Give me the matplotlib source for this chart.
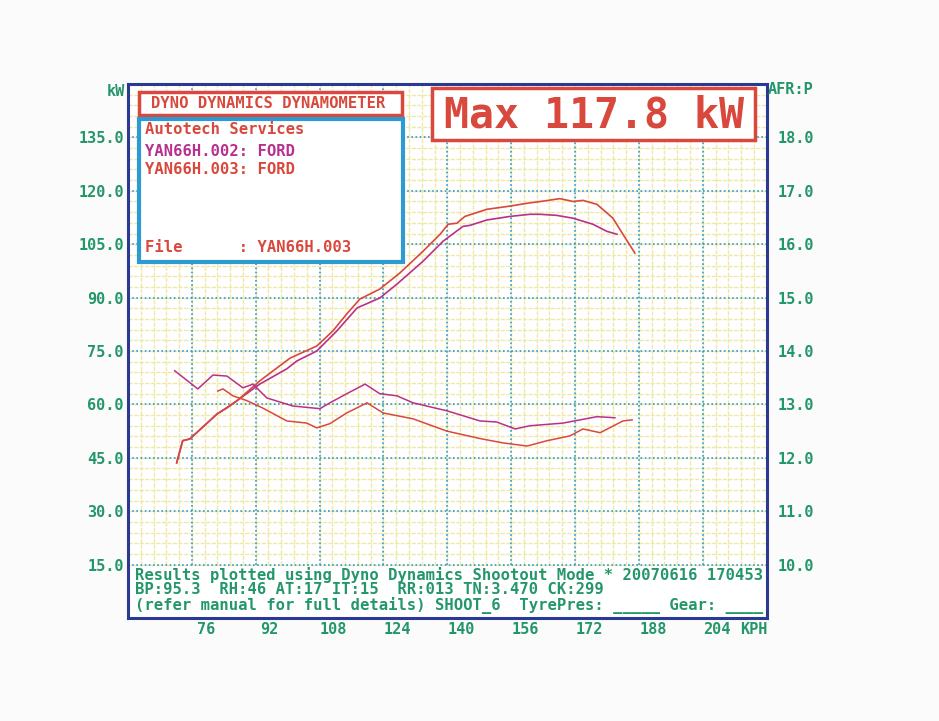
import numpy as np
import matplotlib
matplotlib.use('Agg')
import matplotlib.pyplot as plt
from matplotlib.patches import Rectangle

# values (KPH vs kW, and AFR on the right scale)
kph_pwr_002 = [68.7, 70.2, 72.0, 78.8, 81.3, 89.5, 96.3, 98.8, 103.8, 108.8, 113.9, 119.6, 123.9,
               130.4, 135.4, 140.4, 142.2, 146.4, 152.2, 157.2, 159.7, 163.9, 168.0, 173.0, 176.5, 179.0]
kw_002 = [43.6, 49.8, 50.3, 57.3, 59.0, 65.7, 70.0, 72.2, 75.0, 80.6, 87.1, 89.9, 93.8,
          100.2, 105.8, 110.0, 110.3, 111.8, 112.8, 113.4, 113.4, 113.1, 112.3, 110.6, 108.6, 107.8]

kph_pwr_003 = [68.7, 70.2, 72.0, 78.8, 83.8, 89.5, 97.1, 103.8, 107.8, 111.3, 114.6, 119.6, 124.6,
               130.4, 134.7, 136.7, 138.9, 140.9, 146.4, 152.2, 156.5, 160.5, 164.7, 168.0, 170.5,
               174.0, 178.0, 180.5, 183.5]
kw_003 = [43.6, 49.8, 50.3, 57.3, 61.0, 66.6, 73.0, 76.4, 80.6, 85.4, 89.6, 92.4, 96.9,
          103.0, 107.8, 110.6, 110.9, 112.8, 114.8, 115.7, 116.5, 117.1, 117.8, 117.0, 117.3,
          116.2, 112.3, 107.8, 102.5]

kph_afr_002 = [68.2, 74.0, 77.8, 81.3, 85.3, 87.8, 91.3, 97.8, 104.6, 107.1, 111.3, 115.9, 119.6, 123.9,
               127.9, 136.4, 144.7, 148.9, 153.5, 157.2, 165.5, 174.0, 178.5]
afr_002 = [13.63, 13.29, 13.55, 13.53, 13.31, 13.38, 13.12, 12.97, 12.92, 13.03, 13.20, 13.38, 13.20, 13.16,
           13.03, 12.88, 12.69, 12.67, 12.54, 12.60, 12.65, 12.77, 12.75]

kph_afr_003 = [79.0, 80.3, 82.8, 86.3, 90.3, 96.3, 101.3, 103.8, 107.1, 111.3, 116.4, 120.4, 127.9,
               136.4, 144.7, 150.4, 156.5, 161.5, 167.2, 170.5, 174.8, 180.5, 182.8]
afr_003 = [13.25, 13.29, 13.16, 13.07, 12.93, 12.69, 12.65, 12.56, 12.64, 12.84, 13.03, 12.84, 12.73,
           12.50, 12.36, 12.28, 12.22, 12.32, 12.41, 12.54, 12.47, 12.69, 12.71]

kw_ticks = [15, 30, 45, 60, 75, 90, 105, 120, 135]
afr_ticks = [10, 11, 12, 13, 14, 15, 16, 17, 18]
kph_ticks = [76, 92, 108, 124, 140, 156, 172, 188, 204]

RED = '#d9483c'
MAG = '#b8308e'
GREEN = '#24976a'
NAVY = '#2a3a92'
CYAN = '#2e9ad4'
YEL = '#efe8a6'

plt.rcParams['font.family'] = 'DejaVu Sans Mono'
plt.rcParams['font.weight'] = 'bold'

W, H = 939, 721
def fx(x):
    return x / W
def fy(y):
    return 1 - y / H

fig = plt.figure(figsize=(W / 100, H / 100), dpi=100, facecolor='#fbfbfb')
ax = fig.add_axes([fx(128), fy(618), (767 - 128) / W, (618 - 84) / H])
ax.set_xlim(56.5, 216.6)
ax.set_ylim(0, 150)
ax.set_facecolor('white')

# graph paper only above 15 kW, the strip below holds the run details
minor_x = np.arange(56.5, 216.7, 3.2)
minor_y = np.arange(15, 151, 3)
ax.vlines(minor_x, 15, 150, color=YEL, lw=1.0, linestyles=(0, (3, 1)), zorder=0)
ax.hlines(minor_y, 56.5, 216.6, color=YEL, lw=1.0, linestyles=(0, (3, 1)), zorder=0)
major_x = np.array(kph_ticks) - 3.5
ax.vlines(major_x, 15, 150, color=CYAN, lw=1.2, linestyles=(0, (1, 1.5)), zorder=1)
ax.hlines(kw_ticks, 56.5, 216.6, color=CYAN, lw=1.2, linestyles=(0, (1, 1.5)), zorder=1)

ax.plot(kph_pwr_002, kw_002, color=MAG, lw=1.2, zorder=3)
ax.plot(kph_pwr_003, kw_003, color=RED, lw=1.2, zorder=3)

ax.set_yticks(kw_ticks)
ax.set_yticklabels(['%.1f' % v for v in kw_ticks])
ax.set_xticks(kph_ticks)
ax.set_xticklabels([str(v) for v in kph_ticks])
ax.tick_params(axis='y', length=0, pad=3, labelsize=11, labelcolor=GREEN)
ax.tick_params(axis='x', length=0, pad=3, labelsize=11, labelcolor=GREEN)
for s in ax.spines.values():
    s.set_color(NAVY)
    s.set_linewidth(2.2)

ax2 = ax.twinx()
ax2.set_ylim(9, 19)
ax2.plot(kph_afr_002, afr_002, color=MAG, lw=1.1)
ax2.plot(kph_afr_003, afr_003, color=RED, lw=1.1)
ax2.set_yticks(afr_ticks)
ax2.set_yticklabels(['%.1f' % v for v in afr_ticks])
ax2.tick_params(axis='y', length=0, pad=8, labelsize=11, labelcolor=GREEN)
for s in ax2.spines.values():
    s.set_visible(False)

fig.text(fx(125), fy(92), 'kW', color=GREEN, fontsize=11, ha='right', va='center')
fig.text(fx(768), fy(90), 'AFR:P', color=GREEN, fontsize=11, ha='left', va='center')
fig.text(fx(740), fy(629), 'KPH', color=GREEN, fontsize=11, ha='left', va='center')

# header boxes
fig.add_artist(Rectangle((fx(139), fy(115)), (402 - 139) / W, (115 - 92) / H, transform=fig.transFigure,
                         facecolor='white', edgecolor=RED, lw=2.5, zorder=5))
fig.text(fx(268), fy(103.5), 'DYNO DYNAMICS DYNAMOMETER', color=RED, fontsize=11.2, ha='center', va='center', zorder=6)

fig.add_artist(Rectangle((fx(139), fy(262)), (403 - 139) / W, (262 - 119) / H, transform=fig.transFigure,
                         facecolor='white', edgecolor=CYAN, lw=3, zorder=5))
fig.text(fx(145), fy(130), 'Autotech Services', color=RED, fontsize=11.2, va='center', zorder=6)
fig.text(fx(145), fy(151), 'YAN66H.002: FORD', color=MAG, fontsize=11.2, va='center', zorder=6)
fig.text(fx(145), fy(169), 'YAN66H.003: FORD', color=RED, fontsize=11.2, va='center', zorder=6)
fig.text(fx(145), fy(247), 'File      : YAN66H.003', color=RED, fontsize=11.2, va='center', zorder=6)

fig.add_artist(Rectangle((fx(432), fy(140)), (755 - 432) / W, (140 - 88) / H, transform=fig.transFigure,
                         facecolor='white', edgecolor=RED, lw=2.5, zorder=5))
fig.text(fx(594), fy(116), 'Max 117.8 kW', color=RED, fontsize=30, ha='center', va='center', zorder=6)

# run details in the strip under the graph
fig.text(fx(135), fy(575), 'Results plotted using Dyno Dynamics Shootout Mode * 20070616 170453',
         color=GREEN, fontsize=11.2, va='center', zorder=6)
fig.text(fx(135), fy(590), 'BP:95.3  RH:46 AT:17 IT:15  RR:013 TN:3.470 CK:299',
         color=GREEN, fontsize=11.2, va='center', zorder=6)
fig.text(fx(135), fy(606), '(refer manual for full details) SHOOT_6  TyrePres: _____ Gear: ____',
         color=GREEN, fontsize=11.2, va='center', zorder=6)

fig.savefig('out.png', dpi=100, facecolor=fig.get_facecolor())
